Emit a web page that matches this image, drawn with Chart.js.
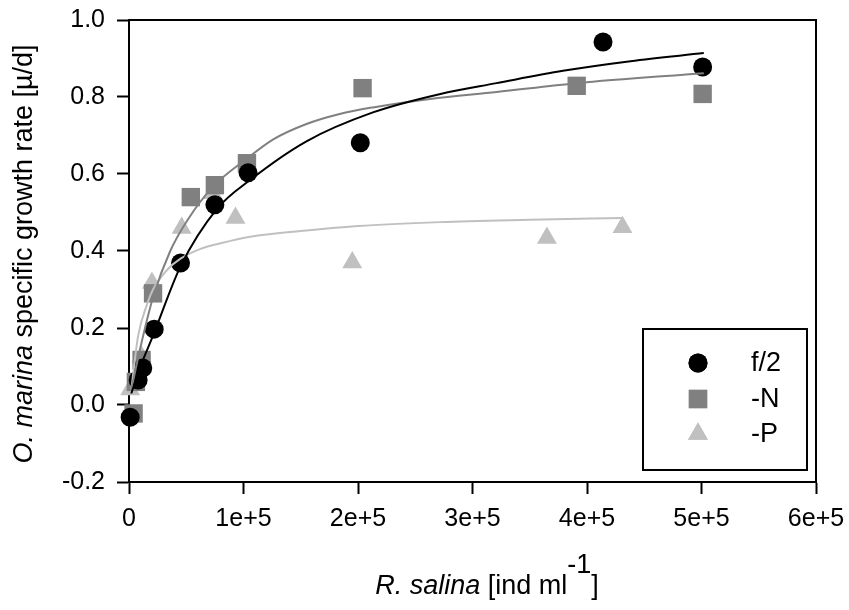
<!DOCTYPE html>
<html>
<head>
<meta charset="utf-8">
<script src="https://cdn.jsdelivr.net/npm/chart.js@4.4.1/dist/chart.umd.min.js"></script>
<style>
  html, body { margin: 0; padding: 0; background: #fff; }
  #wrap { width: 849px; height: 610px; position: relative; }
</style>
</head>
<body>
<div id="wrap"><canvas id="growth"></canvas></div>
<script>
// Measured growth rates of O. marina vs. prey density (R. salina)
const f2X = [1e3, 8e3, 12e3, 22e3, 45e3, 75e3, 104e3, 202e3, 414e3, 501e3];
const f2Y = [-0.032, 0.065, 0.096, 0.197, 0.369, 0.52, 0.603, 0.681, 0.943, 0.878];

const nX = [4e3, 6e3, 11e3, 21e3, 54e3, 75e3, 103e3, 204e3, 391e3, 501e3];
const nY = [-0.022, 0.06, 0.117, 0.29, 0.54, 0.571, 0.628, 0.823, 0.829, 0.808];

const pX = [1e3, 11e3, 20e3, 46e3, 73e3, 93e3, 195e3, 365e3, 431e3];
const pY = [0.04, 0.125, 0.317, 0.46, 0.55, 0.486, 0.37, 0.434, 0.462];

// Fitted curves, read at a handful of prey densities
const fitF2X = [2e3, 10e3, 21e3, 45e3, 77e3, 106e3, 155e3, 213e3, 272e3, 321e3, 379e3, 438e3, 502e3];
const fitF2Y = [0.03, 0.10, 0.18, 0.36, 0.51, 0.585, 0.685, 0.76, 0.808, 0.836, 0.868, 0.893, 0.914];

const fitNX = [2e3, 10e3, 21e3, 36e3, 51e3, 73e3, 103e3, 126e3, 155e3, 184e3, 213e3, 263e3, 321e3, 391e3, 502e3];
const fitNY = [0.04, 0.15, 0.28, 0.40, 0.48, 0.566, 0.64, 0.69, 0.73, 0.756, 0.773, 0.795, 0.813, 0.836, 0.862];

const fitPX = [2e3, 8e3, 15e3, 21e3, 33e3, 45e3, 62e3, 80e3, 106e3, 150e3, 200e3, 272e3, 350e3, 431e3];
const fitPY = [0.04, 0.18, 0.255, 0.30, 0.35, 0.38, 0.405, 0.42, 0.437, 0.452, 0.465, 0.475, 0.481, 0.486];

const xTickLabels = ['0', '1e+5', '2e+5', '3e+5', '4e+5', '5e+5', '6e+5'];
const yTickLabels = ['-0.2', '0.0', '0.2', '0.4', '0.6', '0.8', '1.0'];

const FONT = "'Liberation Sans', Arial, sans-serif";
const TICK_SIZE = 25;
const TITLE_SIZE = 27;
const BLACK = '#000000';
const DARK = '#808080';
const LIGHT = '#c0c0c0';

const toPoints = (xs, ys) => xs.map((x, i) => ({ x: x, y: ys[i] }));

function markerSet(label, xs, ys, color, style, radius, order) {
    return {
        label: label,
        data: toPoints(xs, ys),
        showLine: false,
        pointStyle: style,
        pointRadius: radius,
        pointHoverRadius: radius,
        pointBackgroundColor: color,
        pointBorderColor: color,
        pointBorderWidth: 0,
        clip: false,
        order: order
    };
}

function curveSet(xs, ys, color, order) {
    return {
        label: '',
        isFit: true,
        data: toPoints(xs, ys),
        showLine: true,
        borderColor: color,
        borderWidth: 2,
        pointRadius: 0,
        cubicInterpolationMode: 'monotone',
        order: order
    };
}

// keep tick labels from pushing the plot area around
function fixScale(s, size) {
    if (s.isHorizontal()) s.height = size; else s.width = size;
    s.paddingTop = s.paddingBottom = s.paddingLeft = s.paddingRight = 0;
}

// Frame, legend box and the mixed-style axis titles
const decorations = {
    id: 'decorations',
    beforeDatasetsDraw(chart) {
        const { ctx, chartArea: a } = chart;
        ctx.save();
        ctx.strokeStyle = BLACK;
        ctx.lineWidth = 2;
        ctx.strokeRect(a.left, a.top, a.right - a.left, a.bottom - a.top);
        ctx.restore();
    },
    afterDraw(chart) {
        const { ctx } = chart;
        ctx.save();

        // legend
        const box = { x: 643, y: 329, w: 164, h: 141 };
        ctx.fillStyle = '#fff';
        ctx.fillRect(box.x, box.y, box.w, box.h);
        ctx.strokeStyle = BLACK;
        ctx.lineWidth = 2;
        ctx.strokeRect(box.x, box.y, box.w, box.h);

        const entries = chart.data.datasets.filter(d => !d.isFit);
        const rowY = [363, 399, 434];
        ctx.font = TITLE_SIZE + 'px ' + FONT;
        ctx.textBaseline = 'middle';
        ctx.textAlign = 'left';
        entries.forEach((d, i) => {
            ctx.fillStyle = d.pointBackgroundColor;
            Chart.helpers.drawPoint(ctx, {
                pointStyle: d.pointStyle,
                radius: d.pointRadius,
                borderWidth: 0,
                rotation: 0
            }, 698, rowY[i]);
            ctx.fill();
            ctx.fillStyle = BLACK;
            ctx.fillText(d.label, 751, rowY[i] + 1);
        });

        // y title
        ctx.fillStyle = BLACK;
        ctx.textBaseline = 'alphabetic';
        const yParts = [
            { t: 'O. marina', f: 'italic ' + TITLE_SIZE + 'px ' + FONT },
            { t: ' specific growth rate [\u00b5/d]', f: TITLE_SIZE + 'px ' + FONT }
        ];
        let total = 0;
        yParts.forEach(p => { ctx.font = p.f; total += ctx.measureText(p.t).width; });
        ctx.translate(32, 254);
        ctx.rotate(-Math.PI / 2);
        let cx = -total / 2;
        yParts.forEach(p => {
            ctx.font = p.f;
            ctx.fillText(p.t, cx, 0);
            cx += ctx.measureText(p.t).width;
        });
        ctx.setTransform(1, 0, 0, 1, 0, 0);

        // x title with superscript
        const xParts = [
            { t: 'R. salina', f: 'italic ' + TITLE_SIZE + 'px ' + FONT, dy: 0 },
            { t: ' [ind ml', f: TITLE_SIZE + 'px ' + FONT, dy: 0 },
            { t: '-1', f: TITLE_SIZE + 'px ' + FONT, dy: -21 },
            { t: ']', f: TITLE_SIZE + 'px ' + FONT, dy: 0 }
        ];
        total = 0;
        xParts.forEach(p => { ctx.font = p.f; total += ctx.measureText(p.t).width; });
        cx = 487 - total / 2;
        xParts.forEach(p => {
            ctx.font = p.f;
            ctx.fillText(p.t, cx, 594 + p.dy);
            cx += ctx.measureText(p.t).width;
        });

        ctx.restore();
    }
};

new Chart(document.getElementById('growth'), {
    type: 'scatter',
    data: {
        datasets: [
            markerSet('f/2', f2X, f2Y, BLACK, 'circle', 9.5, 1),
            markerSet('-N', nX, nY, DARK, 'rect', 13, 2),
            markerSet('-P', pX, pY, LIGHT, 'triangle', 11.5, 3),
            curveSet(fitF2X, fitF2Y, BLACK, 0),
            curveSet(fitNX, fitNY, DARK, 0),
            curveSet(fitPX, fitPY, LIGHT, 0)
        ]
    },
    options: {
        responsive: true,
        maintainAspectRatio: false,
        animation: false,
        events: [],
        layout: { padding: { top: 20, right: 33, left: 0, bottom: 0 } },
        plugins: {
            legend: { display: false },
            tooltip: { enabled: false }
        },
        scales: {
            x: {
                type: 'linear',
                min: 0,
                max: 6e5,
                afterFit: s => fixScale(s, 128),
                afterBuildTicks: s => {
                    s.ticks = xTickLabels.map((_, i) => ({ value: i * 1e5 }));
                },
                grid: {
                    drawOnChartArea: false,
                    drawTicks: true,
                    tickLength: 12,
                    tickWidth: 2,
                    tickColor: BLACK
                },
                border: { display: true, color: BLACK, width: 2 },
                ticks: {
                    padding: 10,
                    color: BLACK,
                    font: { family: FONT, size: TICK_SIZE },
                    maxRotation: 0,
                    callback: (v, i) => xTickLabels[i]
                }
            },
            y: {
                type: 'linear',
                min: -0.2,
                max: 1.0,
                afterFit: s => fixScale(s, 129),
                afterBuildTicks: s => {
                    s.ticks = yTickLabels.map(l => ({ value: parseFloat(l) }));
                },
                grid: {
                    drawOnChartArea: false,
                    drawTicks: true,
                    tickLength: 12,
                    tickWidth: 2,
                    tickColor: BLACK
                },
                border: { display: true, color: BLACK, width: 2 },
                ticks: {
                    padding: 12,
                    color: BLACK,
                    font: { family: FONT, size: TICK_SIZE },
                    callback: (v, i) => yTickLabels[i]
                }
            }
        }
    },
    plugins: [decorations]
});
</script>
</body>
</html>
